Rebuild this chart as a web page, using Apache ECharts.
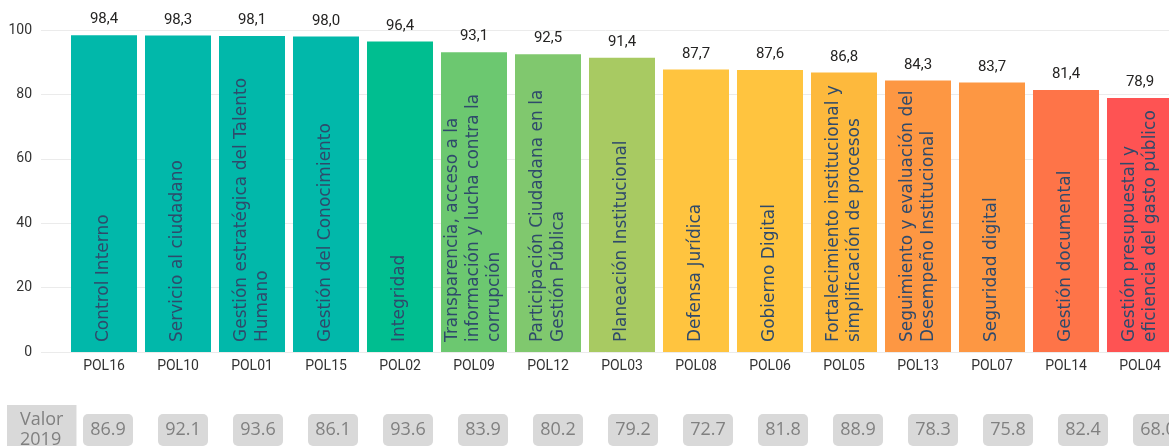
<!DOCTYPE html>
<html>
<head>
<meta charset="utf-8">
<script src="https://cdn.jsdelivr.net/npm/echarts@6/dist/echarts.min.js"></script>
<style>
  html, body { margin: 0; padding: 0; background: #fff; }
  #chart { width: 1169px; height: 446px; }
</style>
</head>
<body>
<div id="chart"></div>
<script>
// codes shown under each bar
const codes = ['POL16', 'POL10', 'POL01', 'POL15', 'POL02', 'POL09', 'POL12', 'POL03',
  'POL08', 'POL06', 'POL05', 'POL13', 'POL07', 'POL14', 'POL04']

// policy names written inside the bars
const names = [
  'Control Interno',
  'Servicio al ciudadano',
  'Gestión estratégica del Talento\nHumano',
  'Gestión del Conocimiento',
  'Integridad',
  'Transparencia, acceso a la\ninformación y lucha contra la\ncorrupción',
  'Participación Ciudadana en la\nGestión Pública',
  'Planeación Institucional',
  'Defensa Jurídica',
  'Gobierno Digital',
  'Fortalecimiento institucional y\nsimplificación de procesos',
  'Seguimiento y evaluación del\nDesempeño Institucional',
  'Seguridad digital',
  'Gestión documental',
  'Gestión presupuestal y\neficiencia del gasto público'
]

const values2020 = [98.4, 98.3, 98.1, 98.0, 96.4, 93.1, 92.5, 91.4, 87.7, 87.6, 86.8, 84.3, 83.7, 81.4, 78.9]
const values2019 = [86.9, 92.1, 93.6, 86.1, 93.6, 83.9, 80.2, 79.2, 72.7, 81.8, 88.9, 78.3, 75.8, 82.4, 68.0]

const yTicks = [0, 20, 40, 60, 80, 100]

const palette = ['#01B8AA', '#01B8AA', '#01B8AA', '#01B8AA', '#00BE90', '#6CC870', '#80C86E',
  '#A8CA62', '#FFC43F', '#FFC43F', '#FDB93D', '#FD9743', '#FD9743', '#FE7448', '#FE5353']

const numFont = 'Roboto'

const option = {
  animation: false,
  title: {
    text: 'Valor\n2019',
    left: 7,
    top: 405,
    backgroundColor: '#D9D9D9',
    padding: [5, 13, 5, 13],
    textStyle: {
      fontFamily: 'Open Sans',
      fontSize: 18,
      fontWeight: 'normal',
      color: '#808080',
      lineHeight: 20
    }
  },
  grid: [
    // background grid holding the y axis lines
    { left: 41, width: 1140, top: 30, bottom: 94, outerBoundsMode: 'none' },
    // bars
    { left: 67, width: 1110, top: 30, bottom: 94, outerBoundsMode: 'none' },
    // row of 2019 values
    { left: 70.5, width: 1125, top: 400, height: 9, outerBoundsMode: 'none' }
  ],
  xAxis: [
    { gridIndex: 0, type: 'value', show: false },
    {
      gridIndex: 1,
      type: 'category',
      data: codes,
      axisLine: { show: false },
      axisTick: { show: false },
      axisLabel: {
        margin: 7,
        fontFamily: numFont,
        fontSize: 14,
        color: '#333'
      }
    },
    {
      gridIndex: 2,
      type: 'category',
      data: values2019.map(v => v.toFixed(1)),
      axisLine: { show: false },
      axisTick: { show: false },
      axisLabel: {
        margin: 5,
        fontFamily: 'Open Sans',
        fontSize: 18,
        color: '#808080',
        backgroundColor: '#D9D9D9',
        borderRadius: 5,
        width: 50,
        lineHeight: 20,
        align: 'center',
        padding: [6, 0, 6, 0]
      }
    }
  ],
  yAxis: [
    {
      gridIndex: 0,
      type: 'value',
      min: yTicks[0],
      max: yTicks[yTicks.length - 1],
      interval: 20,
      axisLine: { show: false },
      axisTick: { show: false },
      splitLine: { lineStyle: { color: '#EBEBEB' } },
      axisLabel: {
        margin: 9,
        fontFamily: numFont,
        fontSize: 14,
        color: '#333'
      }
    },
    { gridIndex: 1, type: 'value', min: 0, max: 100, show: false },
    { gridIndex: 2, type: 'value', show: false }
  ],
  series: [
    {
      type: 'bar',
      xAxisIndex: 1,
      yAxisIndex: 1,
      barWidth: 66,
      data: values2020,
      itemStyle: {
        color: p => palette[p.dataIndex]
      },
      label: {
        show: true,
        position: 'top',
        distance: 8,
        formatter: p => p.value.toFixed(1).replace('.', ','),
        fontFamily: numFont,
        fontSize: 15,
        color: '#252423'
      }
    },
    {
      // same bars again, only to carry the names written inside
      type: 'bar',
      xAxisIndex: 1,
      yAxisIndex: 1,
      barWidth: 66,
      barGap: '-100%',
      data: values2020,
      itemStyle: { color: 'transparent' },
      silent: true,
      label: {
        show: true,
        position: 'insideBottom',
        rotate: 90,
        align: 'left',
        verticalAlign: 'middle',
        distance: 10,
        formatter: p => names[p.dataIndex],
        fontFamily: "'DejaVu Sans'",
        fontSize: 17,
        lineHeight: 21,
        color: '#2F4A6B'
      }
    }
  ]
}

const myChart = echarts.init(document.getElementById('chart'))
myChart.setOption(option)
</script>
</body>
</html>
